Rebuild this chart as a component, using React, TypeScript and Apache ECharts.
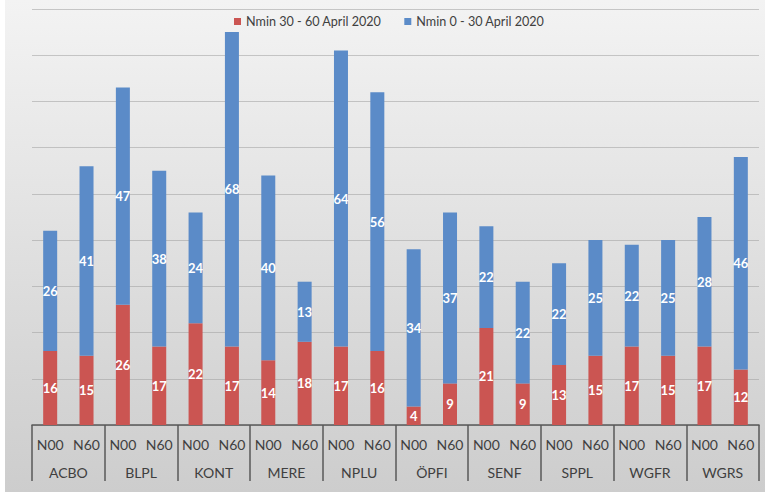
import React, { useEffect, useRef } from "react";
import * as echarts from "echarts";

const groups = ["ACBO", "BLPL", "KONT", "MERE", "NPLU", "ÖPFI", "SENF", "SPPL", "WGFR", "WGRS"];
const subLabels = ["N00", "N60"];
const nmin3060 = [16, 15, 26, 17, 22, 17, 14, 18, 17, 16, 4, 9, 21, 9, 13, 15, 17, 15, 17, 12];
const nmin030 = [26, 41, 47, 38, 24, 68, 40, 13, 64, 56, 34, 37, 22, 22, 22, 25, 22, 25, 28, 46];
const seriesNames = ["Nmin 30 - 60 April 2020", "Nmin 0 - 30 April 2020"];

const FONT = "Lato, 'Noto Sans', sans-serif";

export default function App() {
  const ref = useRef<HTMLDivElement>(null);
  useEffect(() => {
    if (!ref.current) return;
    const chart = echarts.init(ref.current, undefined, { renderer: "svg" });
    const cats: string[] = [];
    groups.forEach(() => subLabels.forEach((s) => cats.push(s)));
    const labelStyle = {
      show: true,
      position: "inside",
      color: "#ffffff",
      fontWeight: "bold",
      fontSize: 13,
      fontFamily: FONT,
    };
    chart.setOption({
      animation: false,
      backgroundColor: "transparent",
      textStyle: { fontFamily: FONT },
      legend: {
        top: 10,
        left: 229,
        itemWidth: 7,
        itemHeight: 7,
        itemGap: 23,
        icon: "rect",
        textStyle: { color: "#404040", fontSize: 12.6, fontFamily: FONT },
        data: seriesNames,
      },
      grid: { left: 32, right: 11, top: 9, bottom: 70 },
      xAxis: [
        {
          type: "category",
          data: cats,
          position: "bottom",
          axisLine: { show: true, lineStyle: { color: "#595959", width: 1.5 } },
          axisTick: { show: false },
          axisLabel: { interval: 0, margin: 12, color: "#404040", fontSize: 14, fontFamily: FONT },
        },
        {
          type: "category",
          data: groups,
          position: "bottom",
          offset: 0,
          axisLine: { show: false },
          axisTick: { show: true, length: 56, interval: 0, lineStyle: { color: "#595959", width: 1.5 } },
          axisLabel: { interval: 0, margin: 40, color: "#404040", fontSize: 14, fontFamily: FONT },
          splitLine: { show: false },
        },
      ],
      yAxis: {
        type: "value",
        min: 0,
        max: 90,
        interval: 10,
        axisLabel: { show: false },
        axisLine: { show: false },
        axisTick: { show: false },
        splitLine: { show: true, lineStyle: { color: "rgba(160,160,160,0.55)", width: 1 } },
      },
      series: [
        {
          name: seriesNames[0],
          type: "bar",
          stack: "total",
          xAxisIndex: 0,
          data: nmin3060,
          barWidth: 14,
          itemStyle: { color: "#CB5552" },
          label: labelStyle,
        },
        {
          name: seriesNames[1],
          type: "bar",
          stack: "total",
          xAxisIndex: 0,
          data: nmin030,
          barWidth: 14,
          itemStyle: { color: "#5B8BC8" },
          label: labelStyle,
        },
      ],
    });
    return () => chart.dispose();
  }, []);
  return (
    <div style={{ position: "fixed", left: 0, top: 0, width: 770, height: 495, background: "#ffffff" }}>
      <div
        style={{
          position: "absolute",
          left: 5,
          top: 0,
          width: 760,
          height: 492,
          background: "linear-gradient(to bottom, #f3f3f3 0%, #e4e4e4 40%, #d6d6d6 75%, #cdcdcd 100%)",
        }}
      />
      <div ref={ref} style={{ position: "absolute", left: 0, top: 0, width: 770, height: 495 }} />
    </div>
  );
}
